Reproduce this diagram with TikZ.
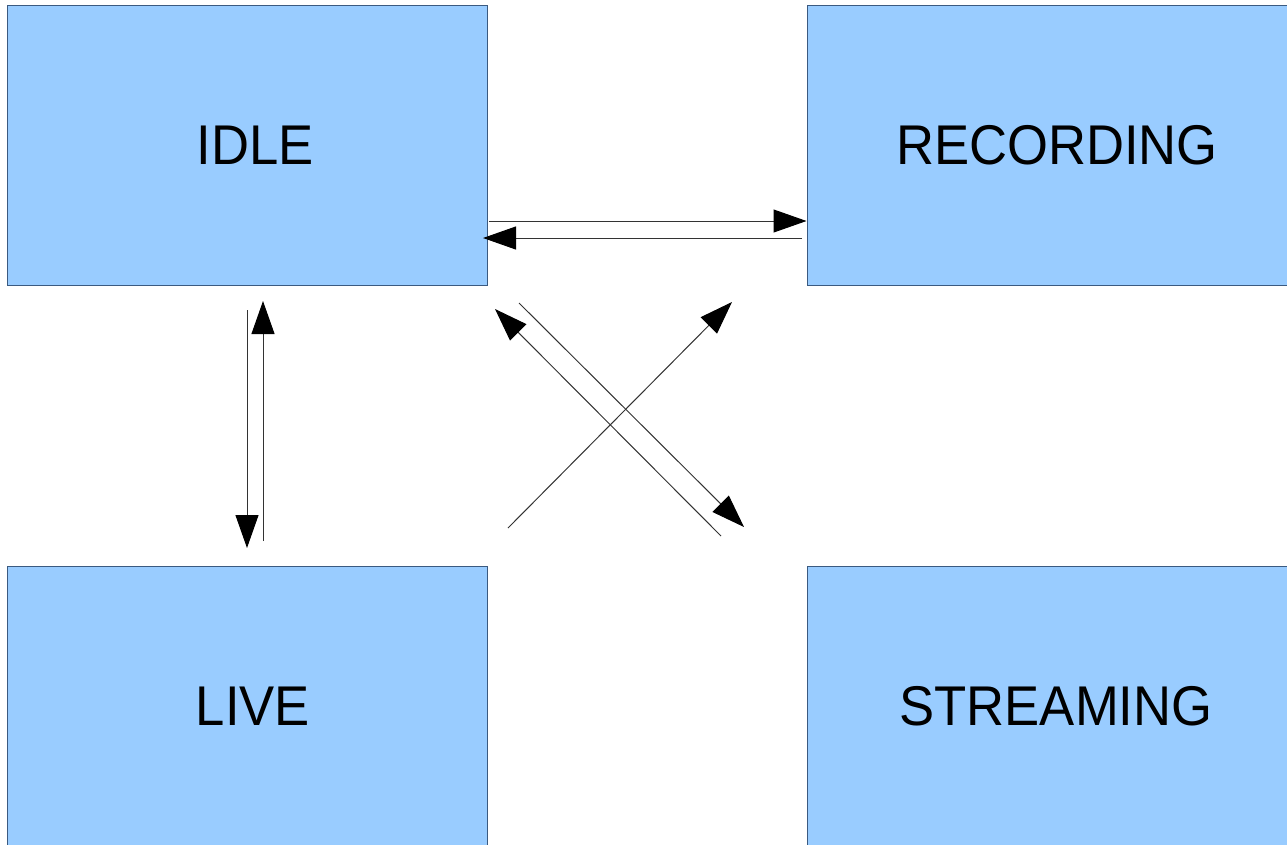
\documentclass[tikz,border=0pt]{standalone}
\usepackage{fontspec}
\setmainfont{Liberation Sans}[FakeStretch=0.94]
\usetikzlibrary{arrows.meta}
\definecolor{boxfill}{HTML}{99CCFF}
\definecolor{boxline}{HTML}{3B5A80}
\definecolor{linecol}{HTML}{333333}
\tikzset{
  state/.style={draw=boxline, fill=boxfill, line width=1pt, minimum width=480pt, minimum height=280pt, inner sep=0pt, font=\fontsize{56}{60}\selectfont},
  conn/.style={draw=linecol, line width=1pt, -{Triangle[length=33pt,width=23pt,fill=black,color=black]}}
}
\begin{document}
\begin{tikzpicture}[x=1pt,y=-1pt]
\useasboundingbox (0,0) rectangle (1287,844);
\node[state] (idle) at (247,145) {\hspace*{16pt}IDLE};
\node[state] (rec) at (1047,145) {\hspace*{20pt}RECORDING};
\node[state] (live) at (247,706) {\hspace*{12pt}LIVE};
\node[state] (stream) at (1047,706) {\hspace*{18pt}STREAMING};
% horizontal
\coordinate (h1s) at (489,221);
\coordinate (h2s) at (802,238);
\coordinate (h2e) at (483,238);
\draw[conn] (h1s) -- (rec.west |- h1s);
\draw[conn] (h2s) -- (h2e);
% vertical
\coordinate (v1s) at (247,310);
\coordinate (v1e) at (247,548);
\coordinate (v2s) at (263,541);
\coordinate (v2e) at (263,301);
\draw[conn] (v1s) -- (v1e);
\draw[conn] (v2s) -- (v2e);
% diagonals
\coordinate (d1s) at (508,528);
\coordinate (d1e) at (732,302);
\coordinate (d2s) at (519,303);
\coordinate (d2e) at (744,527);
\coordinate (d3s) at (721,536);
\coordinate (d3e) at (495,309);
\draw[conn] (d1s) -- (d1e);
\draw[conn] (d2s) -- (d2e);
\draw[conn] (d3s) -- (d3e);
\end{tikzpicture}
\end{document}
